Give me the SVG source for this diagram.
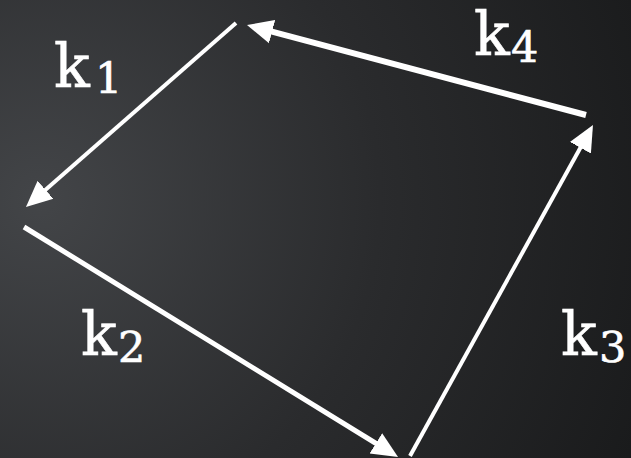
<svg xmlns="http://www.w3.org/2000/svg" width="631" height="458" viewBox="0 0 631 458">
  <defs>
    <radialGradient id="bg" gradientUnits="userSpaceOnUse" cx="40" cy="200" r="680">
      <stop offset="0" stop-color="#434548"/>
      <stop offset="0.5" stop-color="#2a2b2d"/>
      <stop offset="1" stop-color="#18191a"/>
    </radialGradient>
    <marker id="head" markerUnits="userSpaceOnUse" viewBox="0 -13 26 26" refX="6" refY="0" markerWidth="26" markerHeight="26" orient="auto">
      <path d="M0,-12 L26,0 L0,12 z" fill="#ffffff"/>
    </marker>
  </defs>
  <style>
    .edge { stroke: #ffffff; fill: none; stroke-linecap: butt; marker-end: url(#head); }
    .lbl { font-family: "DejaVu Serif", "Liberation Serif", serif; fill: #ffffff; stroke: #ffffff; stroke-width: 0.6; }
    .k { font-size: 59px; }
    .sub { font-size: 43px; }
  </style>
  <rect x="0" y="0" width="631" height="458" fill="url(#bg)"/>
  <g id="connectors">
    <line id="e1" class="edge" x1="236" y1="23" x2="41" y2="193.8" stroke-width="4"/>
    <line id="e2" class="edge" x1="24" y1="227" x2="381" y2="446.5" stroke-width="5"/>
    <line id="e3" class="edge" x1="410" y1="456" x2="583.3" y2="142.5" stroke-width="4"/>
    <line id="e4" class="edge" x1="586" y1="115" x2="266.3" y2="30.1" stroke-width="6"/>
  </g>
  <g id="label-k1">
    <text class="lbl k" x="54" y="87">k</text>
    <text class="lbl sub" x="95" y="93">1</text>
  </g>
  <g id="label-k2">
    <text class="lbl k" x="81" y="355">k</text>
    <text class="lbl sub" x="118" y="362">2</text>
  </g>
  <g id="label-k3">
    <text class="lbl k" x="561" y="355">k</text>
    <text class="lbl sub" x="599" y="362">3</text>
  </g>
  <g id="label-k4">
    <text class="lbl k" x="474" y="55">k</text>
    <text class="lbl sub" x="511" y="62">4</text>
  </g>
</svg>
